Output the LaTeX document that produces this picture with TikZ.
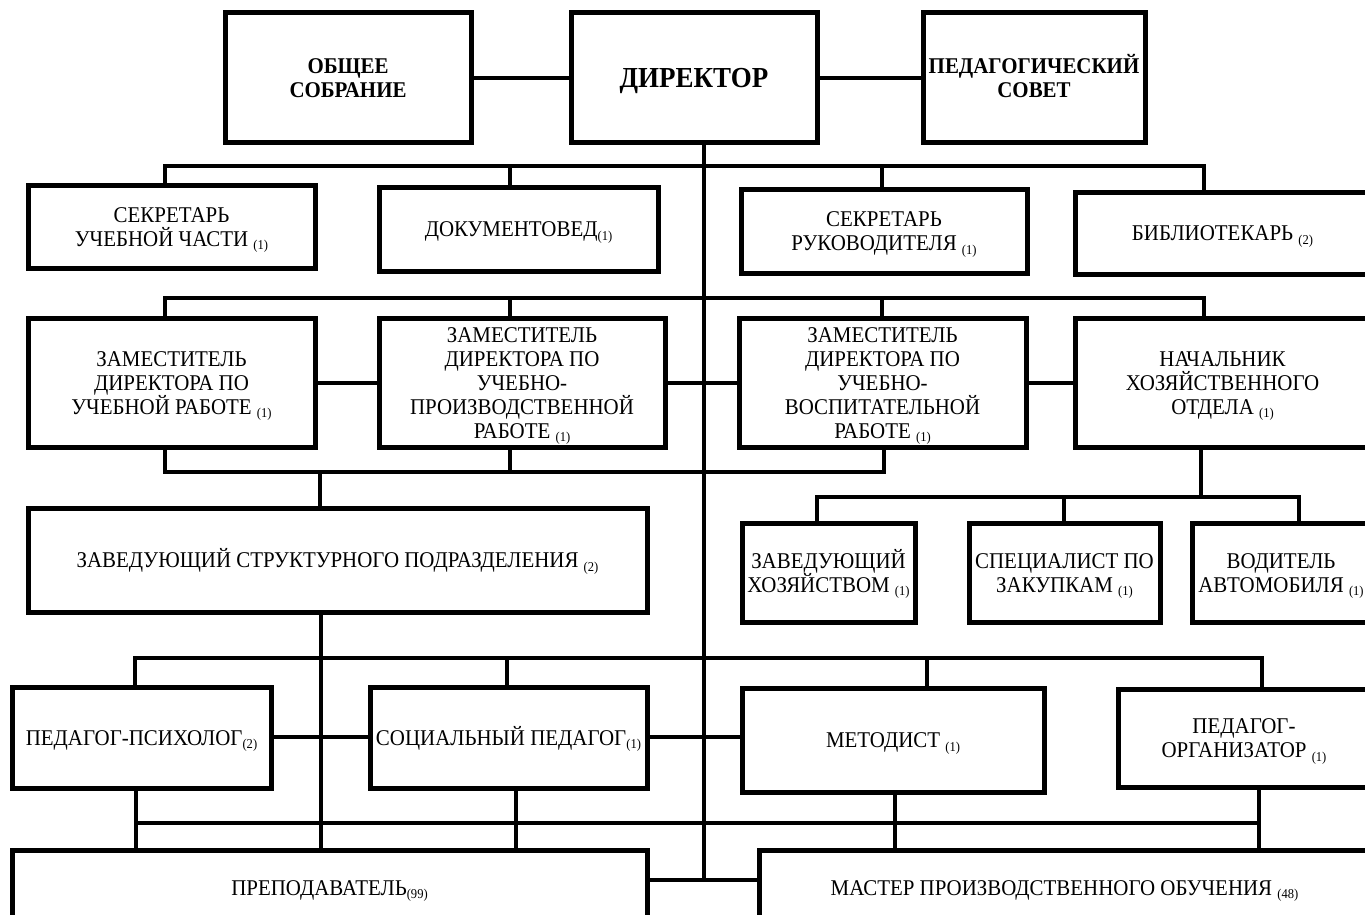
\documentclass[tikz,border=0pt]{standalone}
\usepackage{fontspec}
\setmainfont{Liberation Serif}
\newfontfamily\tnr[FakeStretch=0.93]{Liberation Serif}
\newcommand\cnt[1]{\raisebox{-3.5pt}{\fontsize{13.5}{14}\selectfont(#1)}}
\begin{document}
\begin{tikzpicture}[x=1pt,y=-1pt,
  box/.style={draw=black,line width=5pt,rectangle,inner sep=0pt,align=center,
    text height=15pt,text depth=0pt,
    font=\tnr\fontsize{22.5}{24}\selectfont},
  two/.style={text height=39pt},
  three/.style={text height=63pt},
  five/.style={text height=111pt},
  hbox/.style={box,font=\tnr\fontsize{22.5}{24.5}\selectfont\bfseries},
  conn/.style={line width=4pt,line cap=rect}]
\useasboundingbox (0,0) rectangle (1365,915);
\fill[white] (0,0) rectangle (1365,915);
\clip (0,0) rectangle (1365,915);
% row 1
\node[hbox,two,text height=39.5pt,minimum width=246,minimum height=130] (obsh) at (348,78) {ОБЩЕЕ\\СОБРАНИЕ};
\node[hbox,minimum width=246,minimum height=130,text height=19pt,font=\tnr\fontsize{29}{30}\selectfont\bfseries] (dir) at (694,78) {ДИРЕКТОР};
\node[hbox,two,text height=39.5pt,minimum width=222,minimum height=130] (ped) at (1034,78) {ПЕДАГОГИЧЕСКИЙ\\СОВЕТ};
% row 2
\node[box,two,minimum width=287,minimum height=83] (secu) at (171.5,226.5) {СЕКРЕТАРЬ\\УЧЕБНОЙ ЧАСТИ \cnt{1}};
\node[box,minimum width=279,minimum height=84] (doc) at (518.5,229) {ДОКУМЕНТОВЕД\cnt{1}};
\node[box,two,minimum width=286,minimum height=84] (secr) at (884,231) {СЕКРЕТАРЬ\\РУКОВОДИТЕЛЯ \cnt{1}};
\node[box,minimum width=295,minimum height=82] (bibl) at (1222.5,233) {БИБЛИОТЕКАРЬ \cnt{2}};
% row 3
\node[box,three,minimum width=287,minimum height=129] (zu) at (171.5,382.5) {ЗАМЕСТИТЕЛЬ\\ДИРЕКТОРА ПО\\УЧЕБНОЙ РАБОТЕ \cnt{1}};
\node[box,five,minimum width=286,minimum height=129] (zp) at (522,382.5) {ЗАМЕСТИТЕЛЬ\\ДИРЕКТОРА ПО\\УЧЕБНО-\\ПРОИЗВОДСТВЕННОЙ\\РАБОТЕ \cnt{1}};
\node[box,five,minimum width=287,minimum height=129] (zv) at (882.5,382.5) {ЗАМЕСТИТЕЛЬ\\ДИРЕКТОРА ПО\\УЧЕБНО-\\ВОСПИТАТЕЛЬНОЙ\\РАБОТЕ \cnt{1}};
\node[box,three,minimum width=295,minimum height=129] (nh) at (1222.5,382.5) {НАЧАЛЬНИК\\ХОЗЯЙСТВЕННОГО\\ОТДЕЛА \cnt{1}};
% row 4
\node[box,minimum width=619,minimum height=104] (zs) at (337.5,560) {ЗАВЕДУЮЩИЙ СТРУКТУРНОГО ПОДРАЗДЕЛЕНИЯ \cnt{2}};
\node[box,two,minimum width=173,minimum height=99] (zh) at (828.5,572.5) {ЗАВЕДУЮЩИЙ\\ХОЗЯЙСТВОМ \cnt{1}};
\node[box,two,minimum width=191,minimum height=99] (sp) at (1064.5,572.5) {СПЕЦИАЛИСТ ПО\\ЗАКУПКАМ \cnt{1}};
\node[box,two,minimum width=178,minimum height=99] (vd) at (1281,572.5) {ВОДИТЕЛЬ\\АВТОМОБИЛЯ \cnt{1}};
% row 5
\node[box,minimum width=259,minimum height=101] (pp) at (141.5,737.5) {ПЕДАГОГ-ПСИХОЛОГ\cnt{2}};
\node[box,minimum width=277,minimum height=101] (sc) at (508.5,737.5) {СОЦИАЛЬНЫЙ ПЕДАГОГ\cnt{1}};
\node[box,minimum width=302,minimum height=104] (mt) at (893,740) {МЕТОДИСТ \cnt{1}};
\node[box,two,minimum width=252,minimum height=98] (po) at (1244,738) {ПЕДАГОГ-\\ОРГАНИЗАТОР \cnt{1}};
% row 6
\node[box,minimum width=635,minimum height=75] (pr) at (329.5,887.5) {ПРЕПОДАВАТЕЛЬ\cnt{99}};
\node[box,minimum width=611,minimum height=75] (ms) at (1064.5,887.5) {МАСТЕР ПРОИЗВОДСТВЕННОГО ОБУЧЕНИЯ \cnt{48}};
% bus coordinates
\coordinate (tr) at (704,880);
\coordinate (a1) at (165,166); \coordinate (a2) at (510,166);
\coordinate (a3) at (882,166); \coordinate (a4) at (1204,166);
\coordinate (b1) at (165,298); \coordinate (b2) at (510,298);
\coordinate (b3) at (882,298); \coordinate (b4) at (1204,298);
\coordinate (c1) at (165,472); \coordinate (c2) at (510,472);
\coordinate (c3) at (884,472); \coordinate (c0) at (320,472);
\coordinate (d0) at (1201,497); \coordinate (d1) at (817,497);
\coordinate (d2) at (1064,497); \coordinate (d3) at (1299,497);
\coordinate (e0) at (321,658);
\coordinate (e1) at (135,658); \coordinate (e2) at (507,658);
\coordinate (e3) at (927,658); \coordinate (e4) at (1262,658);
\coordinate (f1) at (136,823); \coordinate (f2) at (516,823);
\coordinate (f3) at (895,823); \coordinate (f4) at (1259,823);
\coordinate (g1) at (0,737);
% connectors
\draw[conn] (obsh.east) -- (dir.west);
\draw[conn] (dir.east) -- (ped.west);
\draw[conn] (dir.south -| tr) -- (tr);
\draw[conn] (pr.east |- tr) -- (ms.west |- tr);
% row 2
\draw[conn] (secu.north -| a1) -- (a1) -- (a4) -- (bibl.north -| a4);
\draw[conn] (a2) -- (doc.north -| a2);
\draw[conn] (a3) -- (secr.north -| a3);
% row 3
\draw[conn] (zu.north -| b1) -- (b1) -- (b4) -- (nh.north -| b4);
\draw[conn] (b2) -- (zp.north -| b2);
\draw[conn] (b3) -- (zv.north -| b3);
\draw[conn] (zu.east) -- (zp.west);
\draw[conn] (zp.east) -- (zv.west);
\draw[conn] (zv.east) -- (nh.west);
\draw[conn] (zu.south -| c1) -- (c1) -- (c3) -- (zv.south -| c3);
\draw[conn] (c2) -- (zp.south -| c2);
\draw[conn] (c0) -- (zs.north -| c0);
% hoz
\draw[conn] (nh.south -| d0) -- (d0);
\draw[conn] (zh.north -| d1) -- (d1) -- (d3) -- (vd.north -| d3);
\draw[conn] (d2) -- (sp.north -| d2);
% row 5
\draw[conn] (zs.south -| e0) -- (pr.north -| e0);
\draw[conn] (pp.north -| e1) -- (e1) -- (e4) -- (po.north -| e4);
\draw[conn] (e2) -- (sc.north -| e2);
\draw[conn] (e3) -- (mt.north -| e3);
\draw[conn] (pp.east |- g1) -- (sc.west |- g1);
\draw[conn] (sc.east |- g1) -- (mt.west |- g1);
\draw[conn] (f1) -- (f4);
\draw[conn] (pp.south -| f1) -- (pr.north -| f1);
\draw[conn] (sc.south -| f2) -- (pr.north -| f2);
\draw[conn] (mt.south -| f3) -- (ms.north -| f3);
\draw[conn] (po.south -| f4) -- (ms.north -| f4);
\end{tikzpicture}
\end{document}
